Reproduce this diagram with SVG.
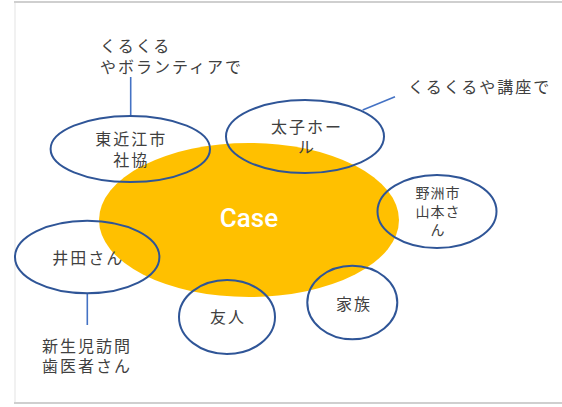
<svg xmlns="http://www.w3.org/2000/svg" width="562" height="407" viewBox="0 0 562 407">
<style>
.frame{stroke:#cfcfcf;stroke-width:2;fill:none}
.side{stroke:#ececec;stroke-width:1.5;fill:none}
.node{fill:none;stroke:#2f5597;stroke-width:2}
.conn{stroke:#4472c4;stroke-width:1.6;fill:none}
.lbl{font-family:"Noto Sans CJK JP","Noto Sans",sans-serif;font-size:16px;letter-spacing:2px;fill:#404040;text-anchor:middle}
.sm{font-size:14px;letter-spacing:1px}
.note{font-family:"Noto Sans CJK JP","Noto Sans",sans-serif;font-size:16px;letter-spacing:2px;fill:#404040}
.case{font-family:Roboto,"Liberation Sans",Arial,sans-serif;font-size:26px;font-weight:500;fill:#ffffff;text-anchor:middle}
</style>
<rect x="0" y="0" width="562" height="407" fill="#ffffff"/>
<line class="frame" x1="14" y1="2" x2="562" y2="2"/>
<line class="frame" x1="14" y1="403" x2="562" y2="403"/>
<line class="side" x1="15" y1="3" x2="15" y2="402"/>
<g id="case">
<ellipse cx="249" cy="220" rx="150" ry="77" fill="#ffc000"/>
<text class="case" x="249" y="227">Case</text>
</g>
<g id="connectors">
<line class="conn" x1="130.7" y1="77" x2="130.7" y2="116"/>
<line class="conn" x1="362.7" y1="110" x2="395" y2="96.7"/>
<line class="conn" x1="87.3" y1="294" x2="87.3" y2="325"/>
</g>
<g id="note-volunteer">
<text class="note"><tspan x="100" y="52">くるくる</tspan><tspan x="100" y="73">やボランティアで</tspan></text>
</g>
<g id="note-kouza">
<text class="note" x="408" y="93">くるくるや講座で</text>
</g>
<g id="note-dentist">
<text class="note"><tspan x="42" y="352">新生児訪問</tspan><tspan x="42" y="372">歯医者さん</tspan></text>
</g>
<g id="higashiomi">
<ellipse class="node" cx="130.3" cy="149" rx="79.7" ry="33"/>
<text class="lbl"><tspan x="131.3" y="145">東近江市</tspan><tspan x="131.3" y="166">社協</tspan></text>
</g>
<g id="taishi">
<ellipse class="node" cx="305" cy="136.5" rx="79" ry="36.5"/>
<text class="lbl"><tspan x="307" y="133">太子ホー</tspan><tspan x="307" y="153">ル</tspan></text>
</g>
<g id="yasu">
<ellipse class="node" cx="437" cy="211.5" rx="59.5" ry="36.5"/>
<text class="lbl sm"><tspan x="438" y="198">野洲市</tspan><tspan x="438" y="217">山本さ</tspan><tspan x="438" y="235">ん</tspan></text>
</g>
<g id="ida">
<ellipse class="node" cx="87.2" cy="257" rx="72.2" ry="36.3"/>
<text class="lbl" x="88.2" y="264">井田さん</text>
</g>
<g id="yujin">
<ellipse class="node" cx="227" cy="317" rx="48" ry="37"/>
<text class="lbl" x="228" y="323">友人</text>
</g>
<g id="kazoku">
<ellipse class="node" cx="352.3" cy="302.5" rx="45" ry="36.8"/>
<text class="lbl" x="354" y="310">家族</text>
</g>
</svg>
